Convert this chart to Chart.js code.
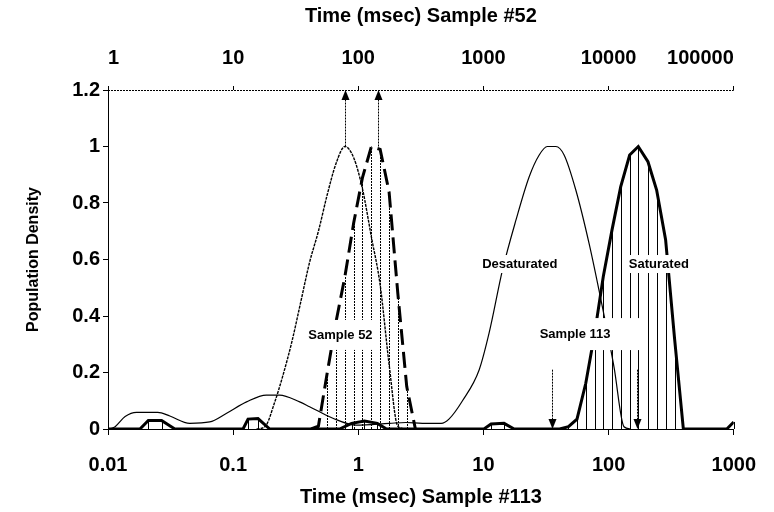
<!DOCTYPE html>
<html>
<head>
<meta charset="utf-8">
<script src="https://cdn.jsdelivr.net/npm/chart.js@4.4.1/dist/chart.umd.min.js"></script>
<style>
  body { margin: 0; background: #fff; }
  #wrap { width: 774px; height: 512px; }
</style>
</head>
<body>
<div id="wrap"><canvas id="myChart" width="774" height="512"></canvas></div>
<script>
// axis ticks
const bottomTicks = [0.01, 0.1, 1, 10, 100, 1000];
const topTicks = [1, 10, 100, 1000, 10000, 100000];
const yTicks = [0, 0.2, 0.4, 0.6, 0.8, 1, 1.2];

// Sample #113, desaturated (bottom axis)
const desatTime = [0.0104, 0.0114, 0.0137, 0.0169, 0.025, 0.0312, 0.045, 0.065, 0.088, 0.128, 0.184, 0.235, 0.34, 0.408, 0.62, 0.96, 1.77, 2.4, 3.25, 4.6, 5.3, 6.8, 9.25, 11.1, 14.2, 18.2, 23.2, 27.9, 32.4, 37.9, 44.1, 54.7, 69.8, 89.1, 110.4, 132.7, 150];
const desatDensity = [0, 0.008, 0.044, 0.059, 0.059, 0.046, 0.02, 0.025, 0.055, 0.096, 0.12, 0.12, 0.096, 0.079, 0.039, 0.014, 0.02, 0.023, 0.02, 0.02, 0.035, 0.1, 0.21, 0.34, 0.563, 0.74, 0.893, 0.97, 1.0, 1.0, 0.97, 0.846, 0.657, 0.433, 0.22, 0.008, 0];

// Sample #113, saturated (bottom axis)
const satTime = [0.01, 0.018, 0.021, 0.0268, 0.0342, 0.12, 0.1315, 0.158, 0.196, 0.708, 0.883, 1.12, 1.42, 1.68, 10.1, 11.5, 14.6, 17.6, 40.6, 47.8, 55.9, 65.7, 77.4, 90.7, 106.4, 125.0, 147.3, 172.6, 206.3, 242.0, 285.4, 336.6, 395.6, 880, 1000];
const satDensity = [0, 0, 0.03, 0.03, 0, 0, 0.035, 0.037, 0, 0, 0.02, 0.028, 0.02, 0, 0, 0.018, 0.02, 0, 0, 0.008, 0.035, 0.162, 0.339, 0.54, 0.704, 0.858, 0.97, 1.0, 0.946, 0.846, 0.67, 0.32, 0, 0, 0.025];

// Sample #52, desaturated (top axis)
const s52DesatTime = [15.4, 18.1, 21.3, 25.0, 29.5, 34.7, 40.8, 48.0, 56.5, 66.4, 78.2, 91.9, 108.0, 127.2, 149.5, 176.1, 206.9, 243.8];
const s52DesatDensity = [0, 0.01, 0.09, 0.19, 0.31, 0.45, 0.59, 0.7, 0.83, 0.94, 1.0, 0.96, 0.85, 0.68, 0.51, 0.23, 0.01, 0];

// Sample #52, saturated (top axis)
const s52SatTime = [42, 48.0, 56.5, 66.4, 78.2, 91.9, 108.0, 127.2, 149.5, 176.1, 206.9, 243.8, 285.9];
const s52SatDensity = [0, 0.01, 0.2, 0.38, 0.54, 0.73, 0.89, 1.0, 0.99, 0.84, 0.48, 0.15, 0];

// peak markers
const s52Peaks = [78.6, 145];   // top axis, arrow from 1.0 up to 1.2
const s113Peaks = [35.6, 170];  // bottom axis, arrow from 0.21 down to 0

const FONT = "'Liberation Sans', Arial, sans-serif";

function pts(xs, ys) {
  return xs.map((x, i) => ({ x: x, y: ys[i] }));
}

// text boxes drawn over the curves
const notes = [
  { text: 'Sample 52', x: 0.72, y: 0.333, padL: 4, padR: 4, padY: 15 },
  { text: 'Desaturated', x: 19.5, y: 0.584, padL: 3, padR: 3, padY: 9 },
  { text: 'Saturated', x: 252, y: 0.584, padL: 3, padR: 3, padY: 9 },
  { text: 'Sample 113', x: 54, y: 0.336, padL: 6, padR: 30, padY: 16 }
];

function drawArrow(ctx, x, yFrom, yTo) {
  const dir = yTo < yFrom ? 1 : -1;
  x = Math.round(x) + 0.5;
  ctx.strokeStyle = '#000';
  ctx.lineWidth = 1;
  ctx.setLineDash([2, 1]);
  ctx.beginPath();
  ctx.moveTo(x, yFrom);
  ctx.lineTo(x, yTo + dir * 8);
  ctx.stroke();
  ctx.setLineDash([]);
  ctx.fillStyle = '#000';
  ctx.beginPath();
  ctx.moveTo(x, yTo);
  ctx.lineTo(x - 4, yTo + dir * 10);
  ctx.lineTo(x + 4, yTo + dir * 10);
  ctx.closePath();
  ctx.fill();
}

const extras = {
  id: 'extras',
  beforeDatasetsDraw(chart) {
    const ctx = chart.ctx;
    const area = chart.chartArea;
    const yScale = chart.scales.y;
    // dotted top axis line
    ctx.save();
    ctx.strokeStyle = '#000';
    ctx.lineWidth = 1;
    ctx.setLineDash([2, 1]);
    ctx.beginPath();
    ctx.moveTo(area.left, area.top + 0.5);
    ctx.lineTo(area.right, area.top + 0.5);
    ctx.stroke();
    ctx.restore();
    // drop lines
    chart.data.datasets.forEach((ds, i) => {
      if (!ds.dropLine) return;
      const meta = chart.getDatasetMeta(i);
      const base = yScale.getPixelForValue(0);
      ctx.save();
      ctx.strokeStyle = '#000';
      ctx.lineWidth = 1;
      ctx.setLineDash(ds.dropLine);
      meta.data.forEach(p => {
        const x = Math.round(p.x) + 0.5;
        ctx.beginPath();
        ctx.moveTo(x, base);
        ctx.lineTo(x, p.y);
        ctx.stroke();
      });
      ctx.restore();
    });
  },
  afterDatasetsDraw(chart) {
    const ctx = chart.ctx;
    const xb = chart.scales.x, xt = chart.scales.x2, y = chart.scales.y;
    ctx.save();
    s52Peaks.forEach(v => drawArrow(ctx, xt.getPixelForValue(v), y.getPixelForValue(1.0), y.getPixelForValue(1.2)));
    s113Peaks.forEach(v => drawArrow(ctx, xb.getPixelForValue(v), y.getPixelForValue(0.21), y.getPixelForValue(0)));
    ctx.font = 'bold 13px ' + FONT;
    ctx.textAlign = 'center';
    ctx.textBaseline = 'middle';
    notes.forEach(n => {
      const cx = xb.getPixelForValue(n.x);
      const cy = y.getPixelForValue(n.y);
      const w = ctx.measureText(n.text).width;
      ctx.fillStyle = '#fff';
      ctx.fillRect(cx - w / 2 - n.padL, cy - n.padY, w + n.padL + n.padR, n.padY * 2);
      ctx.fillStyle = '#000';
      ctx.fillText(n.text, cx, cy);
    });
    ctx.restore();
  }
};

const ctx = document.getElementById('myChart').getContext('2d');
const myChart = new Chart(ctx, {
  type: 'scatter',
  data: {
    datasets: [
      {
        label: 'Sample 113 saturated',
        data: pts(satTime, satDensity),
        xAxisID: 'x',
        showLine: true,
        borderColor: '#000',
        borderWidth: 3,
        pointRadius: 0,
        tension: 0,
        dropLine: []
      },
      {
        label: 'Sample 52 saturated',
        data: pts(s52SatTime, s52SatDensity),
        xAxisID: 'x2',
        showLine: true,
        borderColor: '#000',
        borderWidth: 3,
        borderDash: [16, 7],
        pointRadius: 0,
        tension: 0,
        dropLine: [2, 1]
      },
      {
        label: 'Sample 113 desaturated',
        data: pts(desatTime, desatDensity),
        xAxisID: 'x',
        showLine: true,
        borderColor: '#000',
        borderWidth: 1.2,
        pointRadius: 0,
        cubicInterpolationMode: 'monotone'
      },
      {
        label: 'Sample 52 desaturated',
        data: pts(s52DesatTime, s52DesatDensity),
        xAxisID: 'x2',
        showLine: true,
        borderColor: '#000',
        borderWidth: 1.4,
        borderDash: [3, 1],
        pointRadius: 0,
        cubicInterpolationMode: 'monotone'
      }
    ]
  },
  options: {
    responsive: false,
    animation: false,
    layout: { padding: { left: 0, right: 39, top: 0, bottom: 0 } },
    plugins: {
      legend: { display: false },
      tooltip: { enabled: false }
    },
    scales: {
      x: {
        type: 'logarithmic',
        position: 'bottom',
        min: 0.01,
        max: 1000,
        afterBuildTicks: s => { s.ticks = bottomTicks.map(v => ({ value: v })); },
        afterFit: s => { s.height = 83; },
        ticks: {
          color: '#000',
          padding: 18,
          maxRotation: 0,
          font: { family: FONT, size: 20, weight: 'bold' },
          callback: v => String(v)
        },
        grid: { drawOnChartArea: false, color: '#000', tickLength: 6 },
        border: { color: '#000', width: 1 },
        title: {
          display: true,
          text: 'Time (msec) Sample #113',
          color: '#000',
          padding: { top: 0, bottom: 3 },
          font: { family: FONT, size: 20, weight: 'bold' }
        }
      },
      x2: {
        type: 'logarithmic',
        position: 'top',
        min: 1,
        max: 100000,
        afterBuildTicks: s => { s.ticks = topTicks.map(v => ({ value: v })); },
        afterFit: s => { s.height = 90; },
        ticks: {
          color: '#000',
          padding: 16,
          maxRotation: 0,
          align: 'inner',
          font: { family: FONT, size: 20, weight: 'bold' },
          callback: v => String(v)
        },
        grid: { drawOnChartArea: false, color: '#000', tickLength: 4 },
        border: { display: false },
        title: {
          display: true,
          text: 'Time (msec) Sample #52',
          color: '#000',
          padding: { top: 4, bottom: 0 },
          font: { family: FONT, size: 20, weight: 'bold' }
        }
      },
      y: {
        min: 0,
        max: 1.2,
        afterBuildTicks: s => { s.ticks = yTicks.map(v => ({ value: v })); },
        afterFit: s => { s.width = 108; },
        ticks: {
          color: '#000',
          padding: 3,
          font: { family: FONT, size: 20, weight: 'bold' },
          callback: v => String(+v.toFixed(1))
        },
        grid: { drawOnChartArea: false, color: '#000', tickLength: 5 },
        border: { color: '#000', width: 1 },
        title: {
          display: true,
          text: 'Population Density',
          color: '#000',
          padding: { top: 24, bottom: 0 },
          font: { family: FONT, size: 16, weight: 'bold' }
        }
      }
    }
  },
  plugins: [extras]
});
</script>
</body>
</html>
